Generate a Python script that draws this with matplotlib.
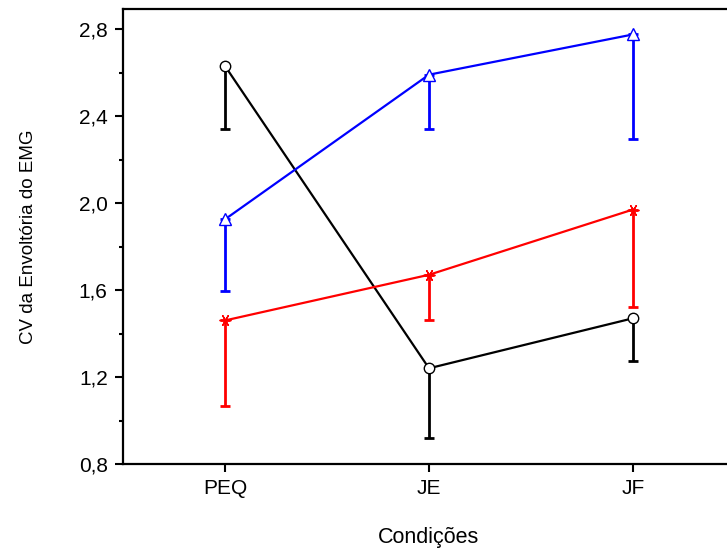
import numpy as np
import matplotlib
matplotlib.use("Agg")
import matplotlib.pyplot as plt
from matplotlib.ticker import FuncFormatter, MultipleLocator

plt.rcParams['font.family'] = ['Liberation Sans', 'DejaVu Sans']

conds = ["PEQ", "JE", "JF"]
# medias e limite inferior (barra de erro so para baixo)
black_mean = [2.63, 1.24, 1.47]
black_low = [2.34, 0.92, 1.275]
blue_mean = [1.925, 2.59, 2.775]
blue_low = [1.595, 2.34, 2.295]
red_mean = [1.46, 1.67, 1.97]
red_low = [1.065, 1.46, 1.52]

x = np.arange(1, len(conds) + 1)

fig = plt.figure(figsize=(7.27, 5.49), dpi=100)
# eixo um pouco mais largo que a figura (borda direita cortada)
ax = fig.add_axes([123/727, 1 - 464/549, (735 - 123)/727, (464 - 9)/549])

series = [
    (black_mean, black_low, 'black', 'o', 7.5),
    (blue_mean, blue_low, 'blue', '^', 9),
    (red_mean, red_low, 'red', (6, 2, 30), 8.5),
]
for mean, low, col, mk, ms in series:
    mean = np.array(mean); low = np.array(low)
    ax.errorbar(x, mean, yerr=[mean - low, np.zeros_like(mean)], fmt='none',
                ecolor=col, elinewidth=2, capsize=3.5, capthick=2, zorder=2)
    face = 'white' if mk in ('o', '^') else col
    ax.plot(x, mean, color=col, lw=1.6, marker=mk, ms=ms,
            mfc=face, mec=col, mew=1.0, zorder=3)

ax.set_xlim(0.5, 3.5)
ax.set_ylim(0.8, 2.892)
ax.set_xticks(x)
ax.set_xticklabels(conds)
ax.yaxis.set_major_locator(MultipleLocator(0.4))
ax.yaxis.set_minor_locator(MultipleLocator(0.2))
ax.yaxis.set_major_formatter(FuncFormatter(lambda v, p: f"{v:.1f}".replace('.', ',')))
ax.tick_params(axis='both', which='major', direction='out', length=6, width=1.5,
               labelsize=15, pad=5)
ax.tick_params(axis='y', which='minor', direction='out', length=3, width=1.5)
for s in ax.spines.values():
    s.set_linewidth(1.6)
ax.spines['right'].set_visible(False)

ax.set_ylabel("CV da Envoltória do EMG", fontsize=13.5, labelpad=30)
ax.set_xlabel("Condições", fontsize=15.5, labelpad=21)

fig.savefig("out.png", dpi=100)
